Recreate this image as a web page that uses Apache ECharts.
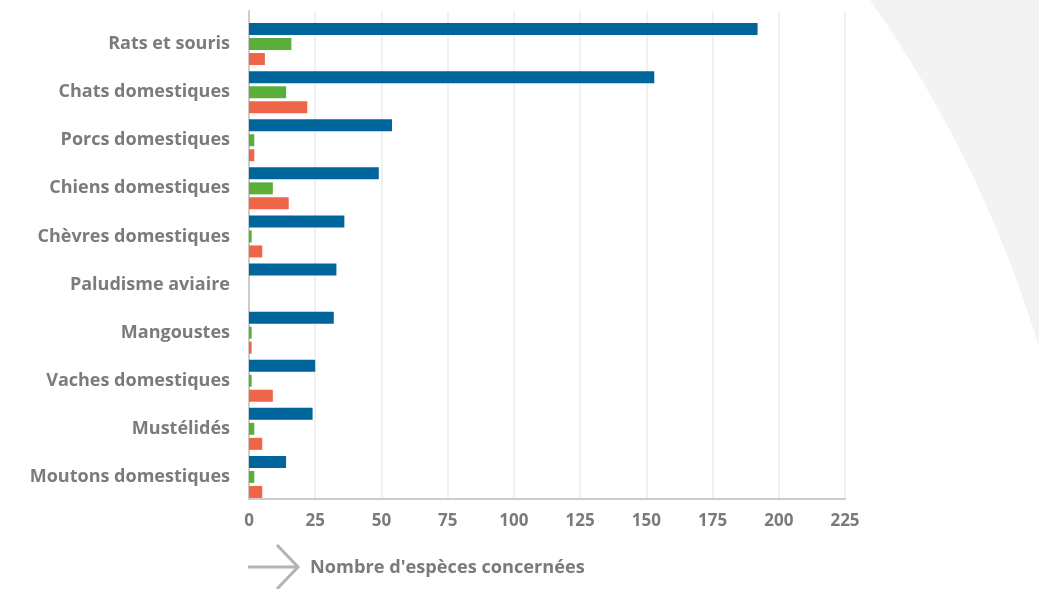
<!DOCTYPE html>
<html><head><meta charset="utf-8">
<script src="https://cdn.jsdelivr.net/npm/echarts@6/dist/echarts.min.js"></script>
<style>html,body{margin:0;padding:0;background:#fff}#c{width:1039px;height:589px}</style>
</head><body><div id="c"></div>
<script>
const categories = ["Rats et souris","Chats domestiques","Porcs domestiques","Chiens domestiques","Chèvres domestiques","Paludisme aviaire","Mangoustes","Vaches domestiques","Mustélidés","Moutons domestiques"];
const seriesBlue = [192,153,54,49,36,33,32,25,24,14];
const seriesGreen = [16,14,2,9,1,0,1,1,2,2];
const seriesRed = [6,22,2,15,5,0,1,9,5,5];
const xTicks = {min:0,max:225,interval:25};
const axisTitle = "Nombre d'espèces concernées";

const FONT = '"Open Sans"';
const GREY = '#7b7b7b';
const chart = echarts.init(document.getElementById('c'));

// decorative background circle edge (top-right)
const cx=-125, cy=699, r=1216;
const pts=[[869,0],[1039,0]];
const edge=[];
for(let y=0;y<=589;y+=4){const x=cx+Math.sqrt(r*r-(y-cy)*(y-cy)); if(x<=1045) edge.push([x,y]);}
edge.reverse();
const poly=pts.concat(edge);

function bar(name,data,color){
  return {type:'bar',name,data,xAxisIndex:1,yAxisIndex:1,barWidth:12,barGap:'25%',
    itemStyle:{color},emphasis:{disabled:true},silent:true,animation:false};
}
chart.setOption({
  animation:false,
  backgroundColor:'#ffffff',
  graphic:[
    {type:'polygon',shape:{points:poly},style:{fill:'#f3f3f3'},z:-10,silent:true},
    {type:'polyline',shape:{points:[[248,567],[298,567]]},style:{stroke:'#b3b3b3',lineWidth:3,fill:null},silent:true},
    {type:'polyline',shape:{points:[[277,545],[298,567],[277,589]]},style:{stroke:'#b3b3b3',lineWidth:3,fill:null},silent:true},
    {type:'text',left:310,top:559,style:{text:axisTitle,fill:GREY,font:'bold 18.2px '+FONT},silent:true}
  ],
  grid:[
    {left:249,right:194,top:11,bottom:90,containLabel:false},
    {left:249,right:194,top:20,bottom:88,containLabel:false}
  ],
  xAxis:[
    {gridIndex:0,type:'value',min:xTicks.min,max:xTicks.max,interval:xTicks.interval,
     axisLine:{show:true,onZero:false,lineStyle:{color:'#cccccc',width:2}},axisTick:{show:false},
     splitLine:{show:true,lineStyle:{color:'#ececec',width:1.5}},
     axisLabel:{color:GREY,fontFamily:FONT,fontWeight:'bold',fontSize:17,margin:14}},
    {gridIndex:1,type:'value',min:xTicks.min,max:xTicks.max,show:false}
  ],
  yAxis:[
    {gridIndex:0,type:'value',min:0,max:1,axisLine:{show:true,lineStyle:{color:'#cccccc',width:2}},
     axisTick:{show:false},axisLabel:{show:false},splitLine:{show:false}},
    {gridIndex:1,type:'category',data:categories,inverse:true,
     axisLine:{show:false},axisTick:{show:false},splitLine:{show:false},
     axisLabel:{color:GREY,fontFamily:FONT,fontWeight:'bold',fontSize:18,margin:19}}
  ],
  series:[
    bar('Espèces 1',seriesBlue,'#00659a'),
    bar('Espèces 2',seriesGreen,'#5aaf3a'),
    bar('Espèces 3',seriesRed,'#ee6647')
  ]
});
</script></body></html>
